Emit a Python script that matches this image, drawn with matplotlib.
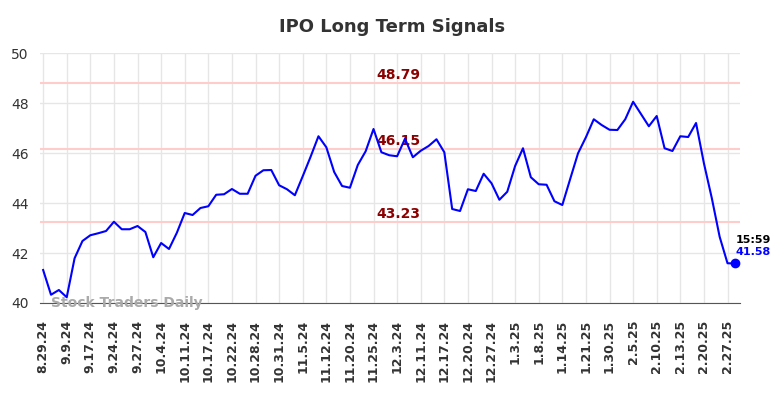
import matplotlib.pyplot as plt
import numpy as np

# closing prices (one per trading day shown)
prices = [41.32, 40.33, 40.52, 40.23, 41.79, 42.48, 42.71, 42.79, 42.88, 43.25,
          42.95, 42.95, 43.08, 42.84, 41.83, 42.40, 42.16, 42.81, 43.60, 43.52,
          43.80, 43.87, 44.33, 44.35, 44.56, 44.37, 44.37, 45.09, 45.31, 45.32,
          44.71, 44.55, 44.31, 45.07, 45.85, 46.67, 46.23, 45.24, 44.68, 44.61,
          45.52, 46.07, 46.96, 46.03, 45.91, 45.87, 46.57, 45.83, 46.09, 46.28,
          46.55, 46.03, 43.76, 43.68, 44.55, 44.48, 45.17, 44.79, 44.13, 44.45,
          45.48, 46.19, 45.03, 44.75, 44.73, 44.07, 43.92, 44.96, 45.99, 46.63,
          47.35, 47.12, 46.93, 46.92, 47.35, 48.05, 47.56, 47.07, 47.48, 46.19,
          46.08, 46.67, 46.64, 47.20, 45.59, 44.20, 42.65, 41.59, 41.58]

tick_labels = ['8.29.24', '9.9.24', '9.17.24', '9.24.24', '9.27.24', '10.4.24',
               '10.11.24', '10.17.24', '10.22.24', '10.28.24', '10.31.24', '11.5.24',
               '11.12.24', '11.20.24', '11.25.24', '12.3.24', '12.11.24', '12.17.24',
               '12.20.24', '12.27.24', '1.3.25', '1.8.25', '1.14.25', '1.21.25',
               '1.30.25', '2.5.25', '2.10.25', '2.13.25', '2.20.25', '2.27.25']

signals = [48.79, 46.15, 43.23]
last_time = '15:59'

x = np.arange(len(prices))
ticks = x[::3][:len(tick_labels)]

fig = plt.figure(figsize=(7.84, 3.98), dpi=100)
ax = fig.add_axes([0.051, 0.2387, 0.893, 0.6281])

for s in signals:
    ax.axhline(s, color='#ffcccc', lw=1.5, zorder=1)
    ax.text(45.2, s + 0.32, f'{s:.2f}', color='#8b0000', fontsize=10,
            fontweight='bold', ha='center', va='center', zorder=3)

ax.plot(x, prices, color='#0000ff', lw=1.5, zorder=4)
ax.plot(x[-1], prices[-1], 'o', color='#0000ff', ms=6, zorder=5)
ax.text(x[-1], prices[-1] + 0.95, last_time, color='black', fontsize=8,
        fontweight='bold', ha='left', va='center')
ax.text(x[-1], prices[-1] + 0.45, f'{prices[-1]:.2f}', color='#0000ff',
        fontsize=8, fontweight='bold', ha='left', va='center')

ax.text(0.016, 0.0, 'Stock Traders Daily', transform=ax.transAxes,
        color='#aaaaaa', fontsize=10, fontweight='bold', ha='left', va='center')

ax.set_xlim(-0.4, 88.6)
ax.set_ylim(40, 50)
ax.set_yticks(range(40, 51, 2))
ax.set_xticks(ticks)
ax.set_xticklabels(tick_labels, rotation=90, fontsize=9, fontweight='bold', color='#333333')
ax.tick_params(axis='y', labelsize=10, labelcolor='#333333', length=0, pad=8)
ax.tick_params(axis='x', length=0, pad=12)
ax.grid(True, color='#e6e6e6', lw=1)
ax.set_axisbelow(True)
for side in ['top', 'right', 'left']:
    ax.spines[side].set_visible(False)
ax.spines['bottom'].set_color('#555555')

fig.suptitle('IPO Long Term Signals', fontsize=13, fontweight='bold', color='#333333', y=0.955)

fig.savefig('out.png', dpi=100)
